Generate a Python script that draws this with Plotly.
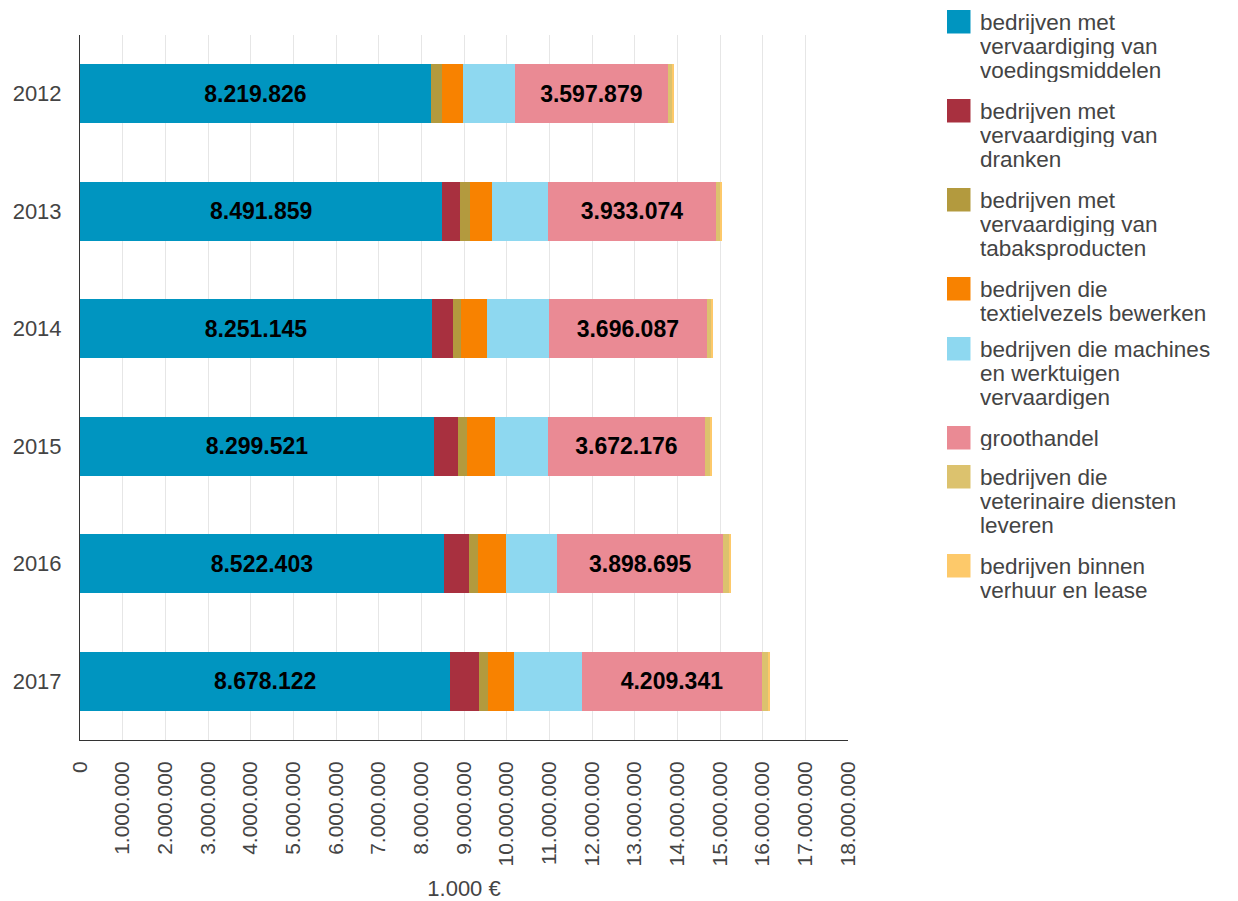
import plotly.graph_objects as go

years = ["2012", "2013", "2014", "2015", "2016", "2017"]

series_names = [
    "bedrijven met vervaardiging van voedingsmiddelen",
    "bedrijven met vervaardiging van dranken",
    "bedrijven met vervaardiging van tabaksproducten",
    "bedrijven die textielvezels bewerken",
    "bedrijven die machines en werktuigen vervaardigen",
    "groothandel",
    "bedrijven die veterinaire diensten leveren",
    "bedrijven binnen verhuur en lease",
]
legend_lines = [
    ["bedrijven met", "vervaardiging van", "voedingsmiddelen"],
    ["bedrijven met", "vervaardiging van", "dranken"],
    ["bedrijven met", "vervaardiging van", "tabaksproducten"],
    ["bedrijven die", "textielvezels bewerken"],
    ["bedrijven die machines", "en werktuigen", "vervaardigen"],
    ["groothandel"],
    ["bedrijven die", "veterinaire diensten", "leveren"],
    ["bedrijven binnen", "verhuur en lease"],
]

voeding = [8219826, 8491859, 8251145, 8299521, 8522403, 8678122]
dranken = [0, 420000, 490000, 560000, 600000, 680000]
tabak = [260000, 220000, 190000, 220000, 195000, 210000]
textiel = [485000, 530000, 610000, 650000, 670000, 610000]
machines = [1220000, 1310000, 1450000, 1240000, 1195000, 1590000]
groothandel = [3597879, 3933074, 3696087, 3672176, 3898695, 4209341]
veterinair = [115000, 100000, 117000, 140000, 130000, 155000]
verhuur = [30000, 30000, 30000, 30000, 25000, 25000]

values = [voeding, dranken, tabak, textiel, machines, groothandel, veterinair, verhuur]
labelled = [True, False, False, False, False, True, False, False]
colors = ["#0095c0", "#a8303f", "#b39a3e", "#f88200", "#8ed8f0", "#ea8a94", "#dcc26e", "#fdc96a"]

x_ticks = list(range(0, 18000001, 1000000))

FONT = "Liberation Sans, Arial, sans-serif"
GREY = "#444444"

fig = go.Figure()
for name, vals, col, lab in zip(series_names, values, colors, labelled):
    fig.add_trace(go.Bar(
        y=years, x=vals, name=name, orientation="h",
        marker=dict(color=col, line=dict(width=0)),
        texttemplate="<b>%{x:,.0f}</b>" if lab else None,
        textposition="inside" if lab else "none",
        insidetextanchor="middle",
        textfont=dict(family=FONT, size=23, color="#000000"),
        showlegend=False,
        hoverinfo="x+name",
    ))

# custom legend (large swatches), built from the series lists
# paper coords: plot area spans page x 80..848, page y 35..740
def px_x(p):
    return (p - 80) / 768.0

def px_y(p):
    return (740 - p) / 705.0

line_h = 24.0
item_step = {1: 39, 2: 60, 3: 89}
y_px = 10.0
shapes = []
annotations = []
for lines, col in zip(legend_lines, colors):
    shapes.append(dict(type="rect", xref="paper", yref="paper",
                       x0=px_x(947), x1=px_x(970.5),
                       y0=px_y(y_px + 23.5), y1=px_y(y_px),
                       fillcolor=col, line=dict(width=0)))
    for i, ln in enumerate(lines):
        cy = y_px + 11.75 + i * line_h
        annotations.append(dict(text=ln, xref="paper", yref="paper",
                                x=px_x(978), y=px_y(cy),
                                xanchor="left", yanchor="middle", showarrow=False,
                                height=24, valign="middle",
                                font=dict(family=FONT, size=22.5, color=GREY)))
    y_px += item_step[len(lines)]

fig.update_layout(
    width=1230, height=893,
    margin=dict(l=72, r=390, t=27, b=161, autoexpand=False),
    barmode="stack",
    bargap=0.5,
    separators=",.",
    plot_bgcolor="white",
    paper_bgcolor="white",
    font=dict(family=FONT, size=21, color=GREY),
    showlegend=False,
    shapes=shapes,
    annotations=annotations,
    xaxis=dict(
        range=[0, 18000000],
        tickvals=x_ticks,
        tickformat=",d",
        tickangle=-90,
        tickfont=dict(family=FONT, size=21, color=GREY),
        showgrid=True, gridcolor="#e6e6e6", gridwidth=1,
        showline=True, linecolor="#333333", linewidth=1,
        zeroline=False,
        ticks="", ticklabelstandoff=12,
        automargin=False,
        title=dict(text="1.000 €", font=dict(family=FONT, size=22, color=GREY), standoff=19),
        fixedrange=True,
    ),
    yaxis=dict(
        type="category",
        autorange="reversed",
        tickfont=dict(family=FONT, size=22, color=GREY),
        showgrid=False,
        showline=True, linecolor="#333333", linewidth=1,
        ticks="", ticklabelstandoff=13,
        automargin=False,
        fixedrange=True,
    ),
)

fig.write_html("out.html")
